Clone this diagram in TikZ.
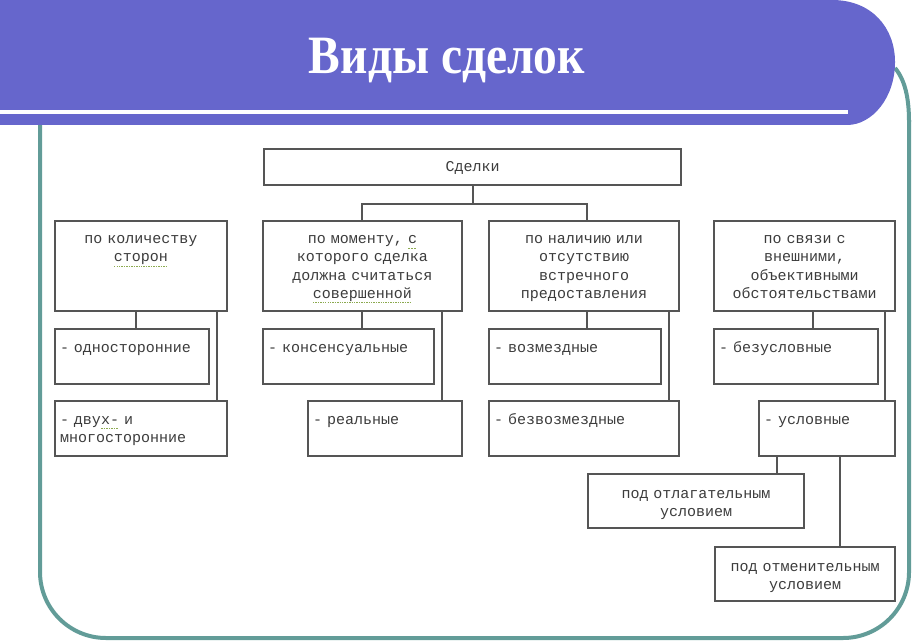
\documentclass[tikz,border=0pt]{standalone}
\usepackage{fontspec}
\usetikzlibrary{calc}
\newfontfamily\monofamily{Liberation Mono}
\newfontfamily\titlefamily[FakeStretch=0.88]{Liberation Serif}
\definecolor{titlebg}{RGB}{102,102,204}
\definecolor{framecol}{RGB}{98,156,152}
\definecolor{boxline}{RGB}{85,85,85}
\definecolor{boxtext}{RGB}{60,60,60}
\definecolor{squiggle}{RGB}{140,170,80}
\newsavebox{\spellbox}
\newcommand{\spellmark}[1]{\leavevmode\sbox{\spellbox}{#1}\rlap{\textcolor{squiggle}{\raisebox{-2.4pt}{\hbox to \wd\spellbox{\xleaders\hbox to 1.2pt{\rule{0.7pt}{0.6pt}\hss}\hfill}}}}\usebox{\spellbox}}

\begin{document}
\begin{tikzpicture}[
    x=0.5pt, y=-0.5pt,
    box/.style={draw=boxline, line width=1pt, fill=white, anchor=north west, inner xsep=2.5pt, inner ysep=0pt, font=\monofamily\fontsize{7.5pt}{9pt}\selectfont, text=boxtext, text height=11.5pt},
    tall/.style={text depth=33.5pt, align=center},
    item/.style={text depth=16pt, align=left},
    link/.style={draw=boxline, line width=1pt},
    frame/.style={draw=framecol, line width=2pt}
]
    \useasboundingbox (0,0) rectangle (913,641);

    % frame and title bar
    \draw[frame] (895,68) .. controls (905,80) and (909,98) .. (909,122);
    \draw[frame, rounded corners=33pt] (909,120) -- (909,638) -- (40,638) -- (40,125);
    \fill[titlebg] (0,0) -- (832,0) .. controls (872,0) and (895,28) .. (895,62) .. controls (895,98) and (872,125) .. (847,125) -- (0,125) -- cycle;
    \fill[white] (0,110) rectangle (848,114);
    \node[text=white, font=\titlefamily\bfseries\fontsize{27pt}{30pt}\selectfont] (title) at (447,61) {Виды сделок};

    % top
    \node[box, text width=203.5pt, text depth=6.5pt, align=center] (deals) at (263,148) {Сделки};

    % criteria
    \node[box, tall, text width=81pt] (b1) at (54,220) {по количеству\\\spellmark{сторон}};
    \node[box, tall, text width=94.5pt] (b2) at (262,220) {по моменту, \spellmark{с}\\которого сделка\\должна считаться\\\spellmark{совершенной}};
    \node[box, tall, text width=90pt] (b3) at (488,220) {по наличию или\\отсутствию\\встречного\\предоставления};
    \node[box, tall, text width=85.5pt] (b4) at (713,220) {по связи с\\внешними,\\объективными\\обстоятельствами};

    % kinds
    \node[box, item, text width=72pt] (c1a) at (54,328) {- односторонние};
    \node[box, item, text width=81pt] (c1b) at (54,400) {- дву\spellmark{х-} и\\многосторонние};
    \node[box, item, text width=80.5pt] (c2a) at (262,328) {- консенсуальные};
    \node[box, item, text width=72pt] (c2b) at (307,400) {- реальные};
    \node[box, item, text width=81pt] (c3a) at (488,328) {- возмездные};
    \node[box, item, text width=90pt] (c3b) at (488,400) {- безвозмездные};
    \node[box, item, text width=77pt] (c4a) at (713,328) {- безусловные};
    \node[box, item, text width=63pt] (c4b) at (758,400) {- условные};

    % conditions
    \node[box, text width=103pt, text height=12pt, text depth=15pt, align=center] (d1) at (587,473) {под отлагательным\\условием};
    \node[box, text width=85pt, text height=12pt, text depth=15pt, align=center] (d2) at (714,546) {под отменительным\\условием};

    % links
    \coordinate (b1l) at ($(b1.south west)+(82,0)$);
    \coordinate (b1r) at ($(b1.south west)+(163,0)$);
    \coordinate (b2l) at ($(b2.north west)+(100,0)$);
    \coordinate (b2r) at ($(b2.south west)+(180,0)$);
    \coordinate (b3l) at ($(b3.north west)+(99,0)$);
    \coordinate (b3r) at ($(b3.south west)+(181,0)$);
    \coordinate (b4l) at ($(b4.south west)+(100,0)$);
    \coordinate (b4r) at ($(b4.south west)+(172,0)$);
    \coordinate (c4l) at ($(c4b.south west)+(19,0)$);
    \coordinate (c4r) at ($(c4b.south west)+(82,0)$);

    \draw[link] (deals.south) -- ++(0,18) -| (b2l);
    \draw[link] (deals.south) -- ++(0,18) -| (b3l);
    \draw[link] (b1l) -- (b1l |- c1a.north);
    \draw[link] (b1r) -- (b1r |- c1b.north);
    \draw[link] (b2l |- b2.south) -- (b2l |- c2a.north);
    \draw[link] (b2r) -- (b2r |- c2b.north);
    \draw[link] (b3l |- b3.south) -- (b3l |- c3a.north);
    \draw[link] (b3r) -- (b3r |- c3b.north);
    \draw[link] (b4l) -- (b4l |- c4a.north);
    \draw[link] (b4r) -- (b4r |- c4b.north);
    \draw[link] (c4l) -- (c4l |- d1.north);
    \draw[link] (c4r) -- (c4r |- d2.north);

\end{tikzpicture}
\end{document}
